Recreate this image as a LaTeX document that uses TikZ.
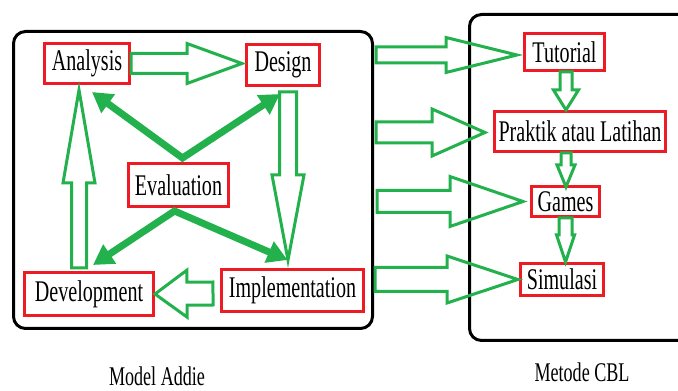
\documentclass[tikz,border=0pt]{standalone}
\usepackage{graphicx}
\usepackage{fontspec}
\setmainfont{Liberation Serif}
\usetikzlibrary{arrows.meta, calc}
\definecolor{addiegreen}{RGB}{34,177,76}
\definecolor{addiered}{RGB}{237,28,36}

% narrow text as in the picture
\newcommand{\squeeze}[1]{\scalebox{0.67}[1]{#1}}

% block arrow: from, to, half shaft, half head, head length
\newcommand{\hollowarrow}[5]{%
  \path (#2) coordinate (ha-e) (#1) coordinate (ha-s);
  \path ($(ha-e)!#5!(ha-s)$) coordinate (ha-h);
  \draw[hollow] ($(ha-s)!#3!90:(ha-e)$) -- ($(ha-h)!#3!90:(ha-e)$) -- ($(ha-h)!#4!90:(ha-e)$)
    -- (ha-e) -- ($(ha-h)!#4!-90:(ha-e)$) -- ($(ha-h)!#3!-90:(ha-e)$) -- ($(ha-s)!#3!-90:(ha-e)$) -- cycle;
}

\begin{document}
\begin{tikzpicture}[
    x=1pt, y=1pt,
    stage/.style={rectangle, draw=addiered, line width=3pt, fill=white,
                  inner sep=0pt, font=\fontsize{30}{32}\selectfont},
    panel/.style={rectangle, draw, line width=3pt, rounded corners=12pt, inner sep=0pt},
    hollow/.style={draw=addiegreen, line width=3pt, line join=miter},
    fatarrow/.style={addiegreen, line width=7pt,
                     {Triangle[length=20pt, width=22pt]}-{Triangle[length=20pt, width=22pt]}},
    caption/.style={font=\fontsize{27}{30}\selectfont}
]
    \useasboundingbox (0,0) rectangle (678,391);

    % Panels
    \node[panel, minimum width=359pt, minimum height=297pt] (addie) at (193,211) {};
    \node[panel, minimum width=229pt, minimum height=326pt] (cbl) at (584,213.5) {};

    % Model Addie
    \node[stage, minimum width=85pt, minimum height=40pt] (analysis) at (87,327.5) {\squeeze{Analysis}};
    \node[stage, minimum width=73pt, minimum height=41pt] (design) at (283,326) {\squeeze{Design}};
    \node[stage, minimum width=100pt, minimum height=43pt] (evaluation) at (178.5,206) {\squeeze{Evaluation}};
    \node[stage, minimum width=129pt, minimum height=43pt] (development) at (89,97) {\squeeze{Development}};
    \node[stage, minimum width=142pt, minimum height=42pt] (implementation) at (292.5,100.5) {\squeeze{Implementation}};

    % Metode CBL
    \node[stage, minimum width=80pt, minimum height=37pt] (tutorial) at (564.5,339) {\squeeze{Tutorial}};
    \node[stage, minimum width=171pt, minimum height=40pt] (praktik) at (580,259.5) {\squeeze{Praktik atau Latihan}};
    \node[stage, minimum width=68pt, minimum height=30pt] (games) at (565.5,189.5) {\squeeze{Games}};
    \node[stage, minimum width=83pt, minimum height=32pt] (simulasi) at (562,111.5) {\squeeze{Simulasi}};

    % Cycle
    \hollowarrow{analysis.east}{$(design.west |- analysis.east)+(-3,0)$}{10pt}{20pt}{55pt}
    \hollowarrow{$(design.south)+(5,-5)$}{$(design.south |- implementation.north)+(5,8)$}{8.5pt}{16pt}{85pt}
    \hollowarrow{$(implementation.west)+(-7,-3)$}{development.east}{11.5pt}{23.5pt}{32pt}
    \hollowarrow{$(development.north)+(-10,3)$}{$(development.north |- analysis.south)+(-10,-5)$}{7.5pt}{16pt}{93pt}

    % Evaluation
    \draw[fatarrow] ($(analysis.south)+(5,-7)$) -- ($(evaluation.north)+(4,4)$) -- ($(design.south)+(-3,-7)$);
    \draw[fatarrow] ($(development.north)+(4,6)$) -- ($(evaluation.south)+(-4,-3)$) -- ($(implementation.north)+(-5,8)$);

    % Addie to CBL
    \hollowarrow{$(addie.east |- tutorial.west)+(2,-3)$}{$(tutorial.west)+(-6,-3)$}{8pt}{17.5pt}{71pt}
    \hollowarrow{$(addie.east |- praktik.west)+(2,-1)$}{$(praktik.west)+(-8,-1)$}{10.5pt}{23.5pt}{53pt}
    \hollowarrow{$(addie.east |- games.west)+(3,0)$}{$(games.west)+(-7,0)$}{11pt}{25pt}{73pt}
    \hollowarrow{$(addie.east |- simulasi.west)+(1,0)$}{$(simulasi.west)+(-1,0)$}{12pt}{23.5pt}{71pt}

    % CBL steps
    \hollowarrow{$(tutorial.south)+(1.5,0)$}{$(tutorial.south |- praktik.north)+(1.5,0)$}{6pt}{12.5pt}{20pt}
    \hollowarrow{$(praktik.south -| games.north)+(0.5,0)$}{$(games.north)+(0.5,-2)$}{5pt}{9pt}{22pt}
    \hollowarrow{games.south}{$(games.south |- simulasi.north)$}{6.5pt}{9pt}{27pt}

    % Labels
    \node[caption] (addielabel) at (157,15) {\squeeze{Model Addie}};
    \node[caption] (cbllabel) at (582,19) {\squeeze{Metode CBL}};

\end{tikzpicture}
\end{document}
